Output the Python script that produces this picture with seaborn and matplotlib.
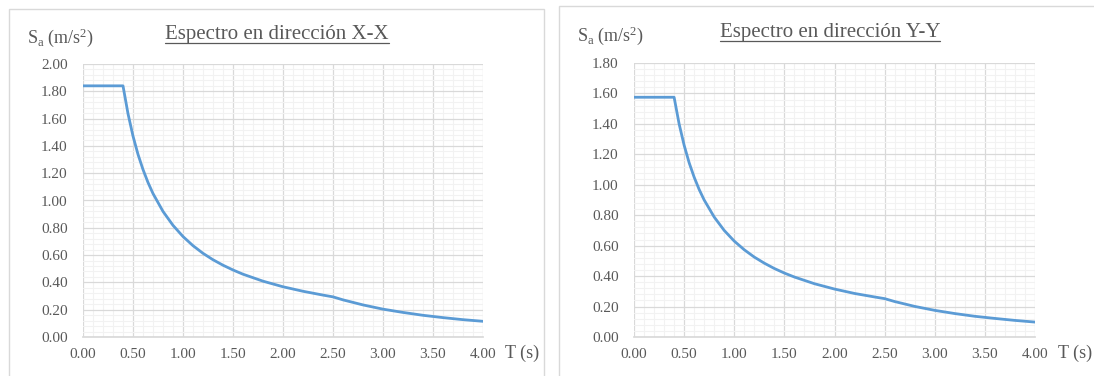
import numpy as np
import pandas as pd
import seaborn as sns
import matplotlib.pyplot as plt
from matplotlib.patches import Rectangle
from matplotlib.lines import Line2D
from matplotlib.ticker import MultipleLocator

# periods (s)
T = [0.00, 0.40, 0.45, 0.50, 0.55, 0.60, 0.65, 0.70, 0.80, 0.90, 1.00,
     1.10, 1.20, 1.30, 1.40, 1.50, 1.60, 1.80, 2.00, 2.20, 2.40, 2.50,
     2.60, 2.80, 3.00, 3.20, 3.40, 3.60, 3.80, 4.00]
# spectral acceleration, X-X direction (m/s2)
sa_x = [1.840, 1.840, 1.636, 1.472, 1.338, 1.227, 1.132, 1.051, 0.920, 0.818, 0.736,
        0.669, 0.613, 0.566, 0.526, 0.491, 0.460, 0.409, 0.368, 0.335, 0.307, 0.294,
        0.272, 0.235, 0.204, 0.180, 0.159, 0.142, 0.127, 0.115]
# spectral acceleration, Y-Y direction (m/s2)
sa_y = [1.575, 1.575, 1.400, 1.260, 1.145, 1.050, 0.969, 0.900, 0.788, 0.700, 0.630,
        0.573, 0.525, 0.485, 0.450, 0.420, 0.394, 0.350, 0.315, 0.286, 0.263, 0.252,
        0.233, 0.201, 0.175, 0.154, 0.136, 0.122, 0.109, 0.098]

titles = ['Espectro en dirección X-X', 'Espectro en dirección Y-Y']
ymax = [2.0, 1.8]
xlabel = 'T (s)'
ylabel = r'$\mathrm{S_a\ (m/s^2)}$'

W, H = 1094, 376
line_color = '#5B9BD5'
text_color = '#595959'

sns.set_theme(style='white')
plt.rcParams['font.family'] = ['Liberation Serif', 'DejaVu Serif']
plt.rcParams['mathtext.fontset'] = 'custom'
plt.rcParams['mathtext.rm'] = 'Liberation Serif'
plt.rcParams['mathtext.it'] = 'Liberation Serif:italic'

fig = plt.figure(figsize=(W / 100, H / 100), dpi=100)

# panel layouts in pixels: axes left, right, top, bottom; frame left, top, right; title center; label positions
panels = [
    dict(ax=(83, 483, 64, 337), frame=(9, 9, 544), title=(277, 34), ylab=(27, 38), xlab=(505, 353)),
    dict(ax=(634, 1035, 63, 337), frame=(559, 6, 1100), title=(830, 32), ylab=(577, 36), xlab=(1058, 353)),
]

df = pd.DataFrame({'T': T, 'X': sa_x, 'Y': sa_y})
titles_txt = []

for i, (p, col) in enumerate(zip(panels, ['X', 'Y'])):
    l, r, t, b = p['ax']
    fl, ft, fr = p['frame']
    fig.add_artist(Rectangle((fl / W, -0.05), (fr - fl) / W, (H - ft) / H + 0.05,
                             transform=fig.transFigure, fill=False,
                             edgecolor='#D9D9D9', linewidth=1.0, clip_on=False))

    ax = fig.add_axes([l / W, 1 - b / H, (r - l) / W, (b - t) / H])
    sns.lineplot(data=df, x='T', y=col, ax=ax, color=line_color, linewidth=2.0)
    ax.set_xlim(0, 4)
    ax.set_ylim(0, ymax[i])
    ax.xaxis.set_major_locator(MultipleLocator(0.5))
    ax.xaxis.set_minor_locator(MultipleLocator(0.1))
    ax.yaxis.set_major_locator(MultipleLocator(0.2))
    ax.yaxis.set_minor_locator(MultipleLocator(0.04))
    ax.grid(which='major', color='#D9D9D9', linewidth=0.9)
    ax.grid(which='minor', color='#F2F2F2', linewidth=0.8)
    ax.set_axisbelow(True)
    ax.xaxis.set_major_formatter(plt.FormatStrFormatter('%.2f'))
    ax.yaxis.set_major_formatter(plt.FormatStrFormatter('%.2f'))
    ax.tick_params(axis='both', which='both', length=0, labelsize=11, labelcolor=text_color)
    ax.tick_params(axis='x', pad=8)
    ax.tick_params(axis='y', pad=11)
    for s in ['top', 'right', 'left']:
        ax.spines[s].set_visible(False)
    ax.spines['bottom'].set_color('#D9D9D9')
    ax.set_xlabel('')
    ax.set_ylabel('')

    tx, ty = p['title']
    tt = fig.text(tx / W, 1 - ty / H, titles[i], ha='center', va='center',
                  fontsize=15, color=text_color)
    titles_txt.append(tt)
    yx, yy = p['ylab']
    fig.text(yx / W, 1 - yy / H, ylabel, ha='left', va='center', fontsize=13, color=text_color)
    xx, xy = p['xlab']
    fig.text(xx / W, 1 - xy / H, xlabel, ha='left', va='center', fontsize=13, color=text_color)

# underline the titles
fig.canvas.draw()
for tt in titles_txt:
    bb = tt.get_window_extent()
    yline = bb.y0 + 1
    fig.add_artist(Line2D([bb.x0 / W, bb.x1 / W], [yline / H, yline / H],
                          transform=fig.transFigure, color=text_color, linewidth=0.9))

fig.savefig('out.png', dpi=100)
